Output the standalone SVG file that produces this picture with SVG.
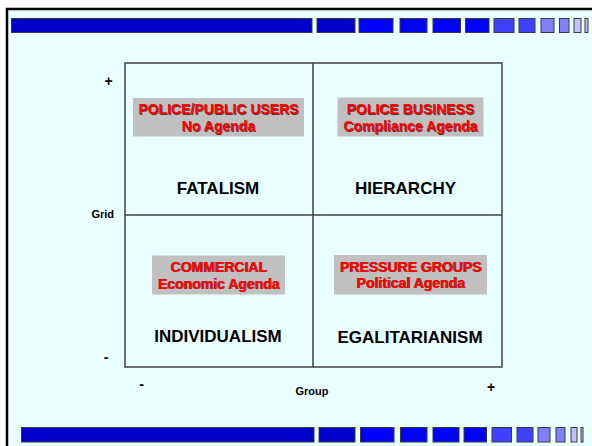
<svg xmlns="http://www.w3.org/2000/svg" width="592" height="446" viewBox="0 0 592 446">
<style>
text{font-family:"Liberation Sans",Arial,sans-serif;font-weight:bold}
.bar rect{stroke:#3a3a3a;stroke-width:1}
.c1{fill:#0000CC}.c2{fill:#0000FF}.c3{fill:#4040FF}.c4{fill:#8080FF}.c5{fill:#C0C0FF}
.quad{font-size:17px;fill:#000;text-anchor:middle}
.tag{fill:#C0C0C0}
.red{font-size:14px;fill:#FF0000;text-anchor:middle}
.sh{font-size:14px;fill:#4a0000;fill-opacity:0.8;text-anchor:middle}
.ax{font-size:11px;fill:#000}
.sg{font-size:14px;fill:#000;text-anchor:middle}
.grid line,.grid rect{stroke:#404040;stroke-width:1.5;fill:none}
</style>
<rect x="0" y="0" width="592" height="446" fill="#fff"/>
<rect x="7" y="9" width="585" height="437" fill="#EAFFFF"/>
<path d="M7 446 V9 H592" fill="none" stroke="#000" stroke-width="2.5"/>
<g id="topbar" class="bar">
<rect class="c1" x="11.5" y="18.5" width="300.5" height="14"/>
<rect class="c1" x="317" y="18.5" width="38" height="14"/>
<rect class="c2" x="359" y="18.5" width="34" height="14"/>
<rect class="c2" x="400" y="18.5" width="27" height="14"/>
<rect class="c2" x="433" y="18.5" width="27.5" height="14"/>
<rect class="c2" x="465.5" y="18.5" width="23.5" height="14"/>
<rect class="c3" x="494" y="18.5" width="20" height="14"/>
<rect class="c3" x="519" y="18.5" width="16" height="14"/>
<rect class="c4" x="541" y="18.5" width="13" height="14"/>
<rect class="c4" x="559.5" y="18.5" width="9.5" height="14"/>
<rect class="c5" x="574" y="18.5" width="7" height="14"/>
<rect class="c5" x="585" y="18.5" width="3" height="14"/>
</g>
<g id="bottombar" class="bar">
<rect class="c1" x="21.5" y="427.5" width="292.5" height="14.5"/>
<rect class="c1" x="319" y="427.5" width="36" height="14.5"/>
<rect class="c2" x="360.5" y="427.5" width="33.5" height="14.5"/>
<rect class="c2" x="400.5" y="427.5" width="26.5" height="14.5"/>
<rect class="c2" x="433" y="427.5" width="26" height="14.5"/>
<rect class="c2" x="464" y="427.5" width="22.5" height="14.5"/>
<rect class="c3" x="492" y="427.5" width="19.5" height="14.5"/>
<rect class="c3" x="517" y="427.5" width="16" height="14.5"/>
<rect class="c4" x="538" y="427.5" width="12" height="14.5"/>
<rect class="c4" x="556" y="427.5" width="9" height="14.5"/>
<rect class="c5" x="571" y="427.5" width="6" height="14.5"/>
<rect class="c5" x="581" y="427.5" width="2" height="14.5"/>
</g>
<g id="connectors" class="grid">
<rect x="125" y="63" width="377" height="304"/>
<line x1="313" y1="63" x2="313" y2="367"/>
<line x1="125" y1="215" x2="502" y2="215"/>
</g>
<g id="axes">
<text class="sg" x="108.5" y="86">+</text>
<text class="ax" x="114" y="218" text-anchor="end">Grid</text>
<text class="sg" x="106" y="362">-</text>
<text class="sg" x="141.5" y="389">-</text>
<text class="ax" x="312" y="395" text-anchor="middle">Group</text>
<text class="sg" x="491" y="392">+</text>
</g>
<g id="fatalism">
<rect class="tag" x="133" y="98" width="171" height="38.5"/>
<text class="sh" x="219.3" y="114.8">POLICE/PUBLIC USERS</text>
<text class="red" x="218.5" y="114">POLICE/PUBLIC USERS</text>
<text class="sh" x="219.3" y="131.8">No Agenda</text>
<text class="red" x="218.5" y="131">No Agenda</text>
<text class="quad" x="218" y="193.5">FATALISM</text>
</g>
<g id="hierarchy">
<rect class="tag" x="337.5" y="97.5" width="146" height="39"/>
<text class="sh" x="411.3" y="114.8">POLICE BUSINESS</text>
<text class="red" x="410.5" y="114">POLICE BUSINESS</text>
<text class="sh" x="411.3" y="131.8">Compliance Agenda</text>
<text class="red" x="410.5" y="131">Compliance Agenda</text>
<text class="quad" x="405.5" y="194">HIERARCHY</text>
</g>
<g id="individualism">
<rect class="tag" x="152" y="255.5" width="133" height="39"/>
<text class="sh" x="219.3" y="272.3">COMMERCIAL</text>
<text class="red" x="218.5" y="271.5">COMMERCIAL</text>
<text class="sh" x="219.3" y="289.3">Economic Agenda</text>
<text class="red" x="218.5" y="288.5">Economic Agenda</text>
<text class="quad" x="218" y="342">INDIVIDUALISM</text>
</g>
<g id="egalitarianism">
<rect class="tag" x="334" y="255" width="153" height="39.5"/>
<text class="sh" x="411.3" y="272.3">PRESSURE GROUPS</text>
<text class="red" x="410.5" y="271.5">PRESSURE GROUPS</text>
<text class="sh" x="411.3" y="288.3">Political Agenda</text>
<text class="red" x="410.5" y="287.5">Political Agenda</text>
<text class="quad" x="410" y="342.5">EGALITARIANISM</text>
</g>
</svg>
